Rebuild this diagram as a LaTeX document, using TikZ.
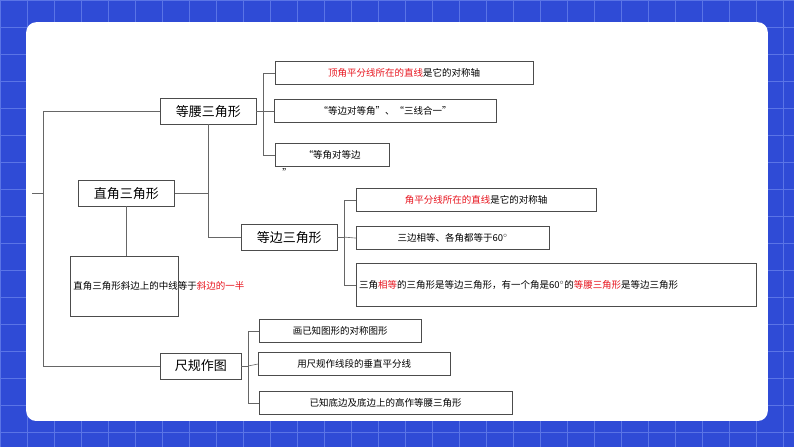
\documentclass[tikz,border=0pt]{standalone}
\usepackage{fontspec}
\setmainfont{Noto Sans CJK SC}
\usetikzlibrary{positioning}
\definecolor{bgblue}{HTML}{2F4BD6}
\definecolor{gridblue}{HTML}{5A74E6}
\definecolor{keyred}{HTML}{E8141E}
\begin{document}
\begin{tikzpicture}[x=1pt,y=-1pt,
    mainbox/.style={draw=black!70,font=\fontsize{13}{15}\selectfont,inner sep=2pt,minimum height=26pt,anchor=west},
    leafbox/.style={draw=black!70,font=\fontsize{9.5}{15}\selectfont,inner sep=3pt,minimum height=23pt,anchor=west,align=left},
    branch/.style={draw=black!60,line width=0.6pt}]

    % background
    \fill[bgblue] (0,0) rectangle (794,447);
    \foreach \gx in {0,27,...,794} \draw[gridblue] (\gx,0) -- (\gx,447);
    \foreach \gy in {0,27,...,447} \draw[gridblue] (0,\gy) -- (794,\gy);
    \fill[white,rounded corners=10pt] (26,22) rectangle (768,421);
    \useasboundingbox (0,0) rectangle (794,447);

    % main nodes
    \node[mainbox,minimum width=96pt] (iso) at (160,111) {等腰三角形};
    \node[mainbox,minimum width=96pt] (right) at (78,193) {直角三角形};
    \node[mainbox,minimum width=96pt] (equi) at (241,237) {等边三角形};
    \node[mainbox,minimum width=81pt] (ruler) at (160,366) {尺规作图};
    \node[leafbox,text width=102pt,minimum height=60pt,font=\fontsize{9.5}{19}\selectfont] (median) at (70,286)
        {直角三角形斜边上的中线等于\textcolor{keyred}{斜边的一半}};

    % leaves
    \node[leafbox,minimum width=258pt] (isoa) at (275,73) {\textcolor{keyred}{顶角平分线所在的直线}是它的对称轴};
    \node[leafbox,minimum width=222pt] (isob) at (274,111) {“等边对等角”、“三线合一”};
    \node[leafbox,minimum width=114pt] (isoc) at (275,155) {“等角对等边};
    \node[font=\fontsize{9.5}{12}\selectfont,inner sep=0pt] (isoq) at (287,172) {”};
    \node[leafbox,minimum width=240pt] (equia) at (356,200) {\textcolor{keyred}{角平分线所在的直线}是它的对称轴};
    \node[leafbox,minimum width=193pt] (equib) at (356,238) {三边相等、各角都等于60$^\circ$};
    \node[leafbox,text width=394pt,minimum height=43pt,font=\fontsize{9.5}{17}\selectfont] (equic) at (356,285)
        {三角\textcolor{keyred}{相等}的三角形是等边三角形，有一个角是60$^\circ$的\textcolor{keyred}{等腰三角形}是等边三角形};
    \node[leafbox,minimum width=162pt] (rula) at (259,331) {画已知图形的对称图形};
    \node[leafbox,minimum width=192pt] (rulb) at (258,364) {用尺规作线段的垂直平分线};
    \node[leafbox,minimum width=253pt] (rulc) at (259,403) {已知底边及底边上的高作等腰三角形};

    % connectors
    \coordinate (root) at (32,193);
    \draw[branch] (root) -- (43,193);
    \draw[branch] (iso.west) -| (43,193) |- (ruler.west);
    \draw[branch] (iso.south) |- (equi.west);
    \draw[branch] (right.east) -- (iso.south |- right.east);
    \draw[branch] (right.south) -- (right.south |- median.north);
    \draw[branch] (iso.east) -- (263,111);
    \draw[branch] (isoa.west) -| (263,111) |- (isoc.west);
    \draw[branch] (isob.west) -- (263,111);
    \draw[branch] (equi.east) -- (344,237);
    \draw[branch] (equia.west) -| (344,237) |- (equic.west);
    \draw[branch] (equib.west) -- (344,237);
    \draw[branch] (ruler.east) -- (248,366);
    \draw[branch] (rula.west) -| (248,366) |- (rulc.west);
    \draw[branch] (rulb.west) -- (248,366);

\end{tikzpicture}
\end{document}
